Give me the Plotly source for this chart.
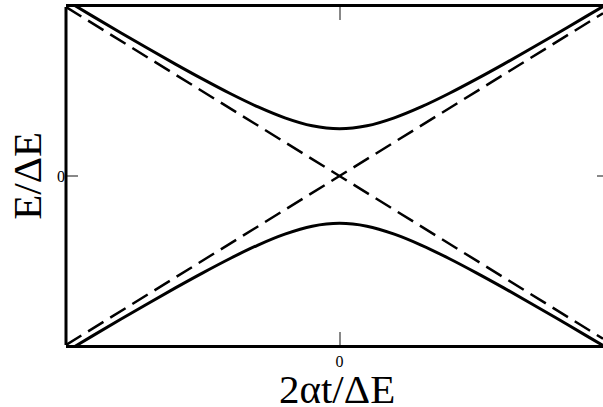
import plotly.graph_objects as go

# --- DATA ---
# dashed diabatic lines
diab_x = [-1.0, 0.0, 0.963]
diab_up = [-1.0, 0.0, 0.963]
diab_down = [1.0, 0.0, -0.963]

# solid adiabatic branches
adia_x = [-1.0, -0.9, -0.8, -0.7, -0.6, -0.5, -0.4, -0.3, -0.2, -0.1, 0.0,
          0.1, 0.2, 0.3, 0.4, 0.5, 0.6, 0.7, 0.8, 0.9, 0.963]
adia_up = [1.04, 0.943, 0.848, 0.754, 0.662, 0.573, 0.488, 0.410, 0.344, 0.297, 0.28,
           0.297, 0.344, 0.410, 0.488, 0.573, 0.662, 0.754, 0.848, 0.943, 1.003]
adia_down = [-1.04, -0.943, -0.848, -0.754, -0.662, -0.573, -0.488, -0.410, -0.344, -0.297, -0.28,
             -0.297, -0.344, -0.410, -0.488, -0.573, -0.662, -0.754, -0.848, -0.943, -1.003]

tick_vals = [0]
tick_text = ["0"]

SERIF = "Liberation Serif, Times New Roman, serif"
TICK_GREY = "#888888"

fig = go.Figure()

for ys in (diab_up, diab_down):
    fig.add_trace(go.Scatter(
        x=diab_x, y=ys, mode="lines",
        line=dict(color="black", width=2.5, dash="18px,8px"),
        showlegend=False, hoverinfo="skip",
    ))

for ys in (adia_up, adia_down):
    fig.add_trace(go.Scatter(
        x=adia_x, y=ys, mode="lines",
        line=dict(color="black", width=3, shape="spline"),
        showlegend=False, hoverinfo="skip",
    ))

# right side of the frame is outside the window in the reference:
# draw only left/top/bottom, plus the stub of the right-hand tick
fig.update_layout(
    width=603, height=407,
    margin=dict(l=66, r=0, t=7, b=62),
    paper_bgcolor="white", plot_bgcolor="white",
    font=dict(family=SERIF, color="black", size=16),
    xaxis=dict(
        range=[-1.0, 0.963], showgrid=False, zeroline=False,
        showline=True, linecolor="black", linewidth=3, mirror="ticks",
        ticks="inside", ticklen=13, tickwidth=2, tickcolor=TICK_GREY,
        tickvals=tick_vals, ticktext=tick_text, tickfont=dict(size=16),
    ),
    yaxis=dict(
        range=[-1.0, 1.0], showgrid=False, zeroline=False,
        showline=False, mirror=False,
        ticks="inside", ticklen=12, tickwidth=2, tickcolor=TICK_GREY,
        tickvals=tick_vals, ticktext=tick_text, tickfont=dict(size=16),
    ),
    shapes=[
        dict(type="line", xref="paper", yref="paper", x0=0, x1=0, y0=0, y1=1,
             line=dict(color="black", width=3)),
        dict(type="line", xref="paper", yref="y", x0=1 - 6 / 537, x1=1, y0=0, y1=0,
             line=dict(color=TICK_GREY, width=2)),
    ],
    annotations=[
        dict(text="2\u03b1t/\u0394E", xref="paper", yref="paper", x=0.505, y=-0.13,
             xanchor="center", yanchor="middle", showarrow=False,
             font=dict(family=SERIF, size=41, color="black")),
        dict(text="E/\u0394E", xref="paper", yref="paper", x=-0.073, y=0.5,
             xanchor="center", yanchor="middle", textangle=-90, showarrow=False,
             font=dict(family=SERIF, size=41, color="black")),
    ],
)

fig.write_html(
    "out.html", config={"displayModeBar": False},
    post_script="document.body.style.margin='0';"
                "document.body.style.overflow='hidden';"
                "document.documentElement.style.overflow='hidden';",
)
